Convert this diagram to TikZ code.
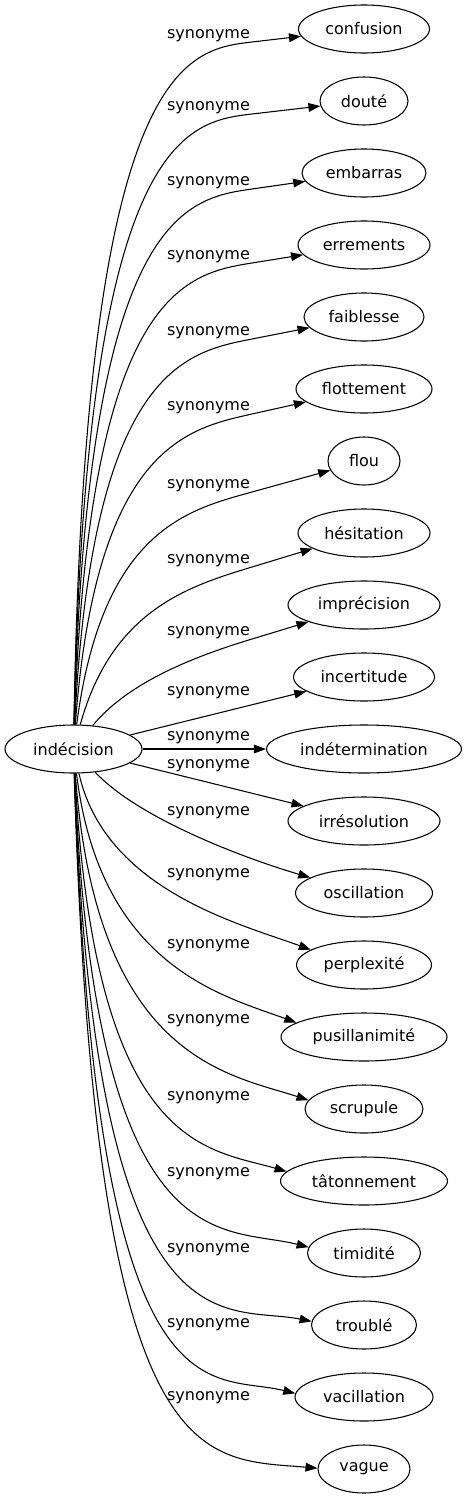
\documentclass[tikz,border=0pt]{standalone}
\usepackage{fontspec}
\setmainfont{DejaVu Sans}
\usetikzlibrary{shapes.geometric,arrows.meta,calc}
\begin{document}
\begin{tikzpicture}[x=0.75pt,y=-0.75pt,
  word/.style={ellipse,draw,line width=0.8pt,minimum height=36pt,inner sep=0pt,font=\fontsize{12}{14}\selectfont},
  lab/.style={inner sep=0pt,font=\fontsize{12}{14}\selectfont},
  edge/.style={line width=0.8pt,-{Triangle[length=9pt,width=6.5pt]}}]
\useasboundingbox (0,0) rectangle (467,1499);
% nodes
\node[word,minimum width=137*0.75pt] (src) at (73.5,749) {indécision};
\node[word,minimum width=131*0.75pt] (t0) at (364,29) {confusion};
\node[word,minimum width=88*0.75pt] (t1) at (364,101) {douté};
\node[word,minimum width=124*0.75pt] (t2) at (364,173) {embarras};
\node[word,minimum width=132*0.75pt] (t3) at (364,245) {errements};
\node[word,minimum width=120*0.75pt] (t4) at (364,317) {faiblesse};
\node[word,minimum width=136*0.75pt] (t5) at (364,389) {flottement};
\node[word,minimum width=72*0.75pt] (t6) at (364,461) {flou};
\node[word,minimum width=132*0.75pt] (t7) at (364,533) {hésitation};
\node[word,minimum width=152*0.75pt] (t8) at (364,605) {imprécision};
\node[word,minimum width=141*0.75pt] (t9) at (364,677) {incertitude};
\node[word,minimum width=195*0.75pt] (t10) at (364,749) {indétermination};
\node[word,minimum width=152*0.75pt] (t11) at (364,821) {irrésolution};
\node[word,minimum width=137*0.75pt] (t12) at (364,893) {oscillation};
\node[word,minimum width=135*0.75pt] (t13) at (364,965) {perplexité};
\node[word,minimum width=166*0.75pt] (t14) at (364,1037) {pusillanimité};
\node[word,minimum width=118*0.75pt] (t15) at (364,1109) {scrupule};
\node[word,minimum width=167*0.75pt] (t16) at (364,1181) {tâtonnement};
\node[word,minimum width=113*0.75pt] (t17) at (364,1253) {timidité};
\node[word,minimum width=105*0.75pt] (t18) at (364,1325) {troublé};
\node[word,minimum width=138*0.75pt] (t19) at (364,1397) {vacillation};
\node[word,minimum width=92*0.75pt] (t20) at (364,1469) {vague};
% labels
\foreach \i/\ly in {0/36,1/108,2/183,3/257,4/333,5/408,6/486,7/561,8/633,9/693,10/738,11/766,12/813,13/875,14/946,15/1021,16/1098,17/1174,18/1250,19/1325,20/1398}
  \node[lab] (l\i) at (208.5,\ly) {synonyme};
% upper edges through label corners
\foreach \i/\ly/\cx/\cy in {0/36/85/62,1/108/86/136,2/183/87/213,3/257/89/290,4/333/92/368,5/408/96/447,6/486/102/530,7/561/112/610}{
  \coordinate (a\i) at (252,\ly+6);
  \draw[edge] (src) .. controls (\cx,\cy) and ($(a\i)!-50pt!(t\i)$) .. (a\i) -- (t\i);
}
\coordinate (a8) at (252,639);
\draw[edge] (src) .. controls (130,680) and ($(a8)!-40pt!(t8)$) .. (a8) -- (t8);
% straight edges
\draw[edge] (src) -- (t9);
\draw[edge] (src) -- (t10);
\draw[edge] (src) -- (t11);
% lower edges
\foreach \i/\ax/\ay/\bx/\by/\an in {
  12/140/820/250/860/164,
  13/105/890/241/924.3/164,
  14/100/966/221.9/995.4/168,
  15/96/1059/228.2/1074/171,
  16/95/1150/205.5/1148.1/173,
  17/95/1267/222/1225.2/174,
  18/95/1364/223.8/1303.8/176,
  19/95/1434/208.4/1371.6/177,
  20/95/1480/200/1458/179}
  \draw[edge] (src) .. controls (\ax,\ay) and (\bx,\by) .. (t\i.\an);
\end{tikzpicture}
\end{document}
